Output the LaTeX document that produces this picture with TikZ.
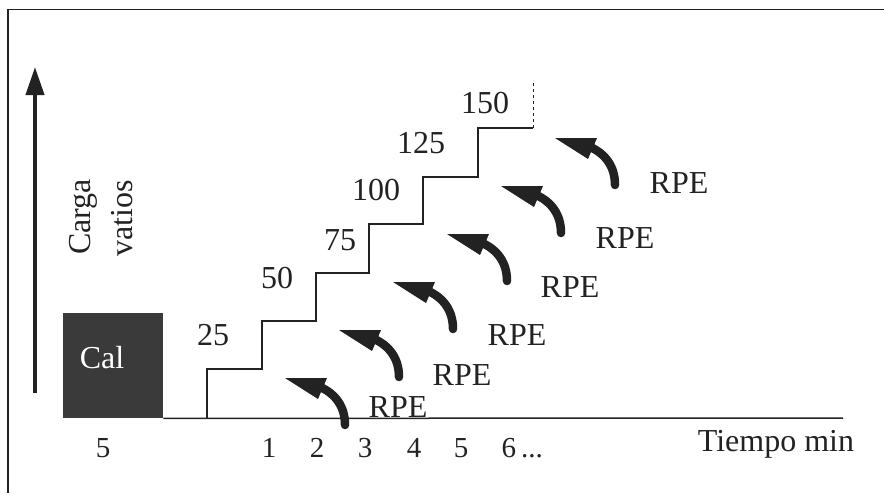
\documentclass[tikz,border=0pt]{standalone}
\usepackage{fontspec}
\setmainfont{Liberation Serif}
\usetikzlibrary{arrows.meta}
\definecolor{ink}{HTML}{222222}
\definecolor{calfill}{HTML}{3A3A3A}
\begin{document}
\begin{tikzpicture}[x=1pt,y=-1pt,
  lbl/.style={font=\fontsize{32}{38}\selectfont, text=ink, inner sep=0pt},
  tick/.style={font=\fontsize{29}{34}\selectfont, text=ink, inner sep=0pt, anchor=base},
  frame/.style={draw=ink, line width=1.8pt},
  stair/.style={draw=ink, line width=1.3pt},
  rpearrow/.pic={
    \fill[ink] (0,0) -- (42,0) -- (33,21) -- cycle;
    \draw[ink, line width=8.5pt, line cap=round] (33,8) .. controls (50,15) and (60,28) .. (60,47);
  }]
\useasboundingbox (0,0) rectangle (884,493);
% frame (left and top edges)
\draw[frame] (8,493) -- (8,9.5) -- (884,9.5);
% vertical load arrow
\coordinate (vbot) at (35,393);
\coordinate (vtop) at (35,67);
\draw[ink, line width=4pt, -{Triangle[width=18pt,length=28pt]}] (vbot) -- (vtop);
\node[lbl, rotate=90] (carga) at (83,217) {Carga};
\node[lbl, rotate=90] (vatios) at (122,218) {vatios};
% calentamiento box
\node[fill=calfill, minimum width=100pt, minimum height=105pt, inner sep=0pt, anchor=north west] (cal) at (63,313) {};
\node[lbl, text=white] (caltext) at (102,358) {Cal};
% time axis
\coordinate (axend) at (843,418);
\draw[frame, line width=1.5pt] (cal.south east) -- (axend);
% staircase
\draw[stair] (207,418) -- (207,369) -- (262,369) -- (262,321) -- (316,321) -- (316,273)
  -- (369,273) -- (369,224) -- (423,224) -- (423,177) -- (478,177) -- (478,128) -- (533,128);
\draw[stair, dashed, line width=1pt] (533,128) -- (533,80);
% load labels
\node[lbl] (l25) at (213,335) {25};
\node[lbl] (l50) at (277,278) {50};
\node[lbl] (l75) at (340,240) {75};
\node[lbl] (l100) at (376,190) {100};
\node[lbl] (l125) at (421,143) {125};
\node[lbl] (l150) at (485,103) {150};
% RPE arrows
\foreach \i in {0,...,5} {
  \pic at ({285+54*\i},{378-48*\i}) {rpearrow};
}
\node[lbl] (r1) at (398,407) {RPE};
\node[lbl] (r2) at (462,375) {RPE};
\node[lbl] (r3) at (517,335) {RPE};
\node[lbl] (r4) at (570,287) {RPE};
\node[lbl] (r5) at (625,238) {RPE};
\node[lbl] (r6) at (679,183) {RPE};
% time labels
\node[tick] (t5) at (103,457) {5};
\node[tick] (t1) at (269,457) {1};
\node[tick] (t2) at (317,457) {2};
\node[tick] (t3) at (365,457) {3};
\node[tick] (t4) at (414,457) {4};
\node[tick] (t5b) at (461,457) {5};
\node[tick, anchor=base west] (t6) at (501.5,457) {6\,...};
\node[lbl, anchor=base] (tiempo) at (776,451) {Tiempo min};
\end{tikzpicture}
\end{document}
